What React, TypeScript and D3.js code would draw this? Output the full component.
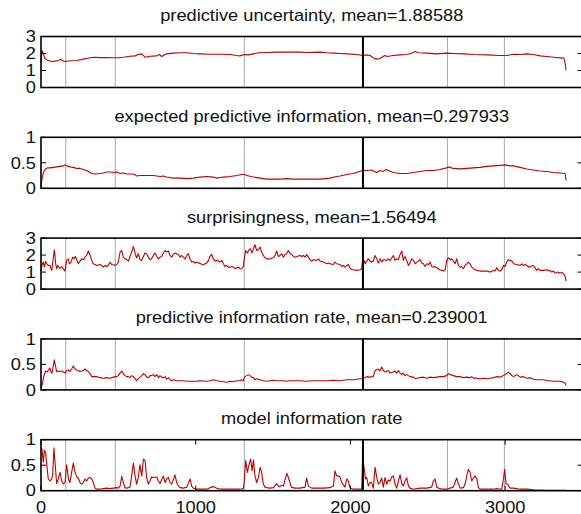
import React from "react";
import * as d3 from "d3";

// ---------- data (x = event index, y = value) ----------
const uncertaintyData: [number, number][] = [
  [0,1.49],[6,2.18],[15,1.98],[26,1.69],[47,1.59],[69,1.53],[90,1.55],[112,1.59],[129,1.65],[144,1.55],[159,1.53],[187,1.57],[231,1.59],[274,1.67],[317,1.75],[349,1.78],[381,1.76],[424,1.76],[468,1.75],[500,1.75],[532,1.78],[575,1.84],[608,1.86],[629,1.94],[651,1.98],[672,1.78],[705,1.84],[748,1.86],[765,1.94],[780,1.82],[802,1.94],[812,1.98],[855,2.02],[899,2.04],[942,2.04],[985,2.0],[1028,1.98],[1092,1.96],[1157,1.96],[1222,1.94],[1265,1.88],[1286,1.86],[1314,1.94],[1340,1.92],[1373,1.98],[1405,2.04],[1459,2.06],[1523,2.08],[1588,2.08],[1674,2.08],[1717,2.06],[1804,2.08],[1847,2.04],[1890,2.02],[1933,2.0],[1976,1.98],[2041,1.94],[2079,1.88],[2105,1.92],[2127,1.88],[2148,1.73],[2170,1.67],[2191,1.71],[2213,1.84],[2224,1.88],[2235,1.82],[2278,1.88],[2321,1.92],[2364,1.94],[2396,2.02],[2418,2.12],[2440,2.04],[2493,2.02],[2558,1.98],[2622,2.02],[2665,2.0],[2730,1.98],[2795,1.94],[2881,1.92],[2967,1.88],[3010,1.88],[3054,1.96],[3097,1.94],[3140,1.98],[3183,1.94],[3226,1.86],[3269,1.82],[3312,1.78],[3377,1.73],[3385,1.59],[3394,1.0]
];

const expInfoData: [number, number][] = [
  [0,0.02],[4,0.15],[11,0.25],[19,0.33],[30,0.38],[41,0.40],[58,0.40],[80,0.41],[101,0.42],[123,0.43],[144,0.44],[155,0.46],[166,0.44],[187,0.42],[209,0.41],[231,0.39],[252,0.39],[274,0.37],[295,0.35],[317,0.31],[328,0.29],[349,0.28],[381,0.29],[403,0.30],[424,0.32],[446,0.32],[478,0.31],[489,0.32],[511,0.29],[532,0.30],[554,0.28],[586,0.28],[608,0.27],[618,0.24],[640,0.25],[662,0.25],[694,0.25],[726,0.25],[748,0.24],[769,0.23],[791,0.24],[812,0.22],[855,0.20],[899,0.20],[942,0.19],[985,0.20],[1028,0.22],[1071,0.23],[1114,0.22],[1136,0.20],[1179,0.22],[1222,0.23],[1265,0.25],[1297,0.27],[1314,0.27],[1329,0.25],[1373,0.22],[1416,0.20],[1459,0.18],[1502,0.18],[1545,0.18],[1588,0.19],[1631,0.18],[1674,0.18],[1739,0.18],[1804,0.18],[1868,0.20],[1911,0.23],[1933,0.24],[1976,0.27],[2019,0.29],[2079,0.35],[2105,0.35],[2137,0.36],[2170,0.31],[2191,0.35],[2213,0.33],[2230,0.37],[2245,0.35],[2278,0.31],[2321,0.29],[2364,0.29],[2407,0.31],[2450,0.33],[2493,0.35],[2536,0.35],[2579,0.37],[2622,0.40],[2633,0.42],[2665,0.39],[2709,0.38],[2752,0.39],[2795,0.40],[2838,0.41],[2881,0.43],[2924,0.44],[2967,0.45],[2999,0.46],[3032,0.44],[3054,0.44],[3097,0.41],[3140,0.38],[3183,0.36],[3226,0.34],[3269,0.33],[3312,0.31],[3355,0.30],[3388,0.29],[3394,0.15]
];

const surpriseData: [number, number][] = [
  [0,1.10],[6,1.39],[15,1.59],[22,1.29],[30,1.63],[37,1.49],[47,1.39],[58,1.39],[69,1.10],[75,1.49],[86,2.31],[95,1.49],[101,1.20],[108,1.39],[116,1.29],[123,1.20],[134,1.33],[144,1.20],[155,1.06],[166,1.69],[177,1.78],[183,1.49],[194,1.59],[205,1.88],[213,1.78],[222,1.92],[231,1.73],[241,1.49],[252,1.65],[263,1.78],[274,1.73],[284,1.88],[295,1.98],[306,2.24],[317,1.98],[328,1.69],[338,1.49],[349,1.45],[360,1.39],[381,1.45],[392,1.39],[403,1.29],[414,1.39],[424,1.33],[435,1.39],[446,1.59],[457,1.45],[468,1.43],[478,1.39],[489,1.45],[500,1.59],[511,2.18],[522,2.27],[532,1.88],[543,1.78],[554,1.73],[565,1.65],[575,1.92],[586,2.18],[597,2.51],[608,2.12],[618,1.84],[629,2.08],[640,1.73],[651,1.69],[662,1.92],[672,2.12],[683,2.08],[694,1.88],[705,1.73],[715,1.78],[726,1.98],[737,2.12],[748,1.92],[759,1.78],[769,1.88],[780,1.92],[791,2.12],[802,2.27],[812,2.18],[823,2.24],[834,1.98],[845,1.88],[855,2.04],[866,2.12],[877,2.08],[888,2.04],[899,1.88],[909,1.98],[920,1.88],[931,1.78],[942,1.98],[952,2.08],[963,1.78],[974,1.59],[985,1.63],[995,1.53],[1006,1.59],[1017,1.53],[1028,1.53],[1039,1.45],[1049,1.43],[1060,1.49],[1071,1.53],[1082,1.69],[1092,1.92],[1103,2.04],[1114,1.78],[1125,1.65],[1136,1.69],[1146,1.65],[1157,1.59],[1168,1.69],[1179,1.49],[1189,1.33],[1200,1.39],[1211,1.29],[1222,1.29],[1233,1.33],[1243,1.29],[1254,1.20],[1265,1.25],[1276,1.29],[1286,1.20],[1297,1.18],[1308,1.33],[1314,1.78],[1323,2.27],[1334,2.12],[1345,2.31],[1355,2.37],[1364,2.12],[1373,2.37],[1383,2.61],[1394,2.27],[1405,2.31],[1416,2.47],[1426,2.18],[1437,1.98],[1448,1.84],[1459,1.78],[1480,1.78],[1502,1.84],[1513,1.98],[1523,2.24],[1534,1.92],[1545,1.98],[1556,2.08],[1567,1.88],[1577,2.04],[1588,2.08],[1599,2.27],[1610,2.08],[1621,2.04],[1631,1.92],[1642,1.88],[1653,1.92],[1674,1.98],[1685,1.92],[1696,1.98],[1707,1.88],[1717,2.04],[1728,1.88],[1739,1.73],[1750,1.65],[1760,1.73],[1782,1.69],[1793,1.78],[1804,1.65],[1825,1.59],[1847,1.49],[1857,1.53],[1868,1.49],[1890,1.45],[1900,1.59],[1911,1.49],[1933,1.45],[1944,1.33],[1954,1.39],[1965,1.29],[1976,1.39],[1987,1.45],[1997,1.24],[2008,1.14],[2019,1.14],[2041,1.10],[2062,1.14],[2073,1.20],[2079,1.73],[2088,1.69],[2095,1.49],[2105,1.65],[2116,1.78],[2127,1.65],[2137,1.59],[2148,1.65],[2159,1.98],[2170,1.78],[2180,1.53],[2191,1.78],[2202,1.59],[2213,1.73],[2235,1.69],[2245,1.78],[2256,1.69],[2278,1.98],[2288,1.69],[2299,1.78],[2310,1.73],[2321,2.04],[2332,2.24],[2342,1.69],[2353,1.92],[2364,1.69],[2375,1.39],[2385,1.53],[2396,1.78],[2407,1.69],[2418,1.49],[2429,1.59],[2450,1.73],[2461,1.53],[2472,1.49],[2482,1.33],[2493,1.49],[2504,1.45],[2515,1.59],[2525,1.33],[2536,1.29],[2547,1.33],[2558,1.25],[2568,1.20],[2579,1.14],[2601,1.06],[2612,1.14],[2622,1.69],[2633,1.84],[2644,1.73],[2655,1.78],[2665,1.65],[2676,1.49],[2687,1.78],[2698,1.39],[2709,1.29],[2719,1.33],[2730,1.20],[2741,1.39],[2752,1.49],[2762,1.59],[2773,1.49],[2784,1.29],[2795,1.20],[2817,1.10],[2838,1.06],[2860,1.06],[2881,1.06],[2903,1.00],[2924,1.10],[2935,1.06],[2946,1.25],[2956,1.10],[2967,1.06],[2978,1.14],[2989,1.39],[2999,1.33],[3010,1.59],[3021,1.73],[3032,1.69],[3043,1.65],[3054,1.49],[3075,1.45],[3097,1.39],[3108,1.49],[3118,1.39],[3129,1.45],[3140,1.39],[3151,1.29],[3161,1.33],[3183,1.39],[3194,1.25],[3204,1.10],[3215,1.20],[3226,1.10],[3247,1.10],[3269,1.14],[3280,1.06],[3291,1.10],[3302,1.00],[3312,1.06],[3323,0.94],[3334,1.00],[3355,0.94],[3366,1.00],[3377,0.90],[3388,0.75],[3394,0.47]
];

const pirData: [number, number][] = [
  [0,0.02],[9,0.12],[19,0.28],[30,0.37],[41,0.35],[52,0.41],[58,0.43],[65,0.35],[71,0.33],[80,0.48],[86,0.59],[93,0.48],[101,0.36],[112,0.37],[123,0.36],[134,0.37],[144,0.35],[155,0.33],[166,0.38],[177,0.39],[187,0.36],[198,0.41],[209,0.47],[220,0.41],[231,0.39],[241,0.38],[252,0.36],[263,0.37],[274,0.38],[284,0.41],[295,0.38],[306,0.36],[317,0.32],[328,0.26],[338,0.26],[360,0.26],[381,0.24],[403,0.23],[424,0.24],[446,0.23],[468,0.25],[478,0.26],[489,0.26],[500,0.28],[511,0.33],[522,0.37],[532,0.32],[543,0.28],[554,0.26],[565,0.26],[575,0.24],[586,0.28],[597,0.26],[608,0.22],[618,0.18],[629,0.22],[640,0.25],[651,0.28],[662,0.32],[672,0.30],[683,0.25],[694,0.24],[705,0.28],[715,0.28],[726,0.30],[737,0.26],[748,0.30],[759,0.24],[769,0.28],[780,0.25],[791,0.24],[802,0.26],[812,0.21],[823,0.24],[834,0.20],[845,0.18],[855,0.20],[877,0.18],[899,0.18],[920,0.18],[942,0.17],[963,0.17],[985,0.17],[1006,0.17],[1028,0.18],[1071,0.17],[1092,0.18],[1114,0.20],[1136,0.18],[1157,0.17],[1179,0.16],[1200,0.15],[1222,0.17],[1243,0.16],[1265,0.18],[1286,0.18],[1297,0.20],[1308,0.18],[1314,0.25],[1329,0.28],[1340,0.30],[1351,0.28],[1362,0.25],[1373,0.24],[1383,0.20],[1394,0.22],[1416,0.20],[1437,0.18],[1459,0.17],[1480,0.18],[1502,0.19],[1523,0.18],[1545,0.18],[1567,0.18],[1588,0.17],[1610,0.18],[1631,0.18],[1674,0.18],[1717,0.17],[1760,0.18],[1804,0.18],[1847,0.18],[1890,0.19],[1933,0.18],[1976,0.20],[1997,0.20],[2019,0.20],[2062,0.22],[2079,0.22],[2095,0.24],[2105,0.26],[2116,0.25],[2148,0.26],[2159,0.38],[2180,0.41],[2191,0.37],[2202,0.45],[2213,0.38],[2224,0.35],[2245,0.38],[2256,0.33],[2278,0.35],[2288,0.37],[2299,0.33],[2310,0.38],[2321,0.33],[2332,0.30],[2342,0.33],[2353,0.28],[2364,0.30],[2385,0.26],[2407,0.25],[2418,0.22],[2429,0.23],[2450,0.24],[2472,0.25],[2493,0.23],[2515,0.25],[2536,0.24],[2558,0.25],[2579,0.26],[2601,0.26],[2622,0.28],[2633,0.32],[2644,0.30],[2665,0.28],[2687,0.26],[2709,0.26],[2730,0.24],[2752,0.25],[2773,0.24],[2784,0.26],[2795,0.23],[2817,0.23],[2838,0.22],[2860,0.23],[2881,0.22],[2903,0.23],[2924,0.24],[2946,0.26],[2967,0.25],[2989,0.28],[3010,0.32],[3021,0.35],[3032,0.32],[3043,0.28],[3054,0.26],[3075,0.30],[3097,0.25],[3118,0.26],[3140,0.23],[3161,0.24],[3183,0.21],[3204,0.20],[3226,0.20],[3247,0.20],[3269,0.18],[3291,0.18],[3312,0.17],[3355,0.17],[3377,0.15],[3388,0.13],[3394,0.09]
];

const mirData: [number, number][] = [
  [0,0.85],[6,0.82],[15,0.56],[22,0.79],[30,0.75],[37,0.52],[47,0.23],[58,0.19],[69,0.23],[75,0.29],[84,0.84],[93,0.46],[101,0.14],[112,0.23],[123,0.36],[134,0.19],[144,0.13],[155,0.16],[166,0.51],[177,0.23],[187,0.16],[198,0.36],[209,0.54],[220,0.36],[231,0.27],[241,0.25],[252,0.16],[263,0.13],[274,0.16],[284,0.23],[295,0.19],[306,0.25],[317,0.26],[328,0.23],[338,0.16],[349,0.05],[360,0.03],[381,0.03],[403,0.04],[424,0.05],[446,0.04],[468,0.05],[489,0.06],[500,0.05],[511,0.09],[522,0.28],[532,0.16],[543,0.06],[554,0.05],[575,0.07],[586,0.29],[597,0.54],[608,0.29],[618,0.13],[629,0.26],[640,0.51],[651,0.29],[662,0.62],[672,0.60],[683,0.26],[694,0.13],[705,0.19],[715,0.27],[726,0.26],[748,0.27],[759,0.19],[769,0.14],[791,0.29],[802,0.16],[812,0.23],[823,0.26],[834,0.16],[845,0.13],[866,0.31],[877,0.16],[888,0.09],[899,0.06],[920,0.05],[942,0.07],[963,0.23],[974,0.09],[985,0.05],[1006,0.03],[1028,0.03],[1071,0.03],[1092,0.06],[1114,0.08],[1136,0.05],[1157,0.03],[1200,0.03],[1243,0.03],[1286,0.03],[1308,0.04],[1314,0.19],[1323,0.59],[1334,0.36],[1345,0.52],[1355,0.62],[1364,0.39],[1373,0.60],[1383,0.29],[1394,0.16],[1405,0.26],[1416,0.46],[1426,0.36],[1437,0.13],[1448,0.07],[1459,0.06],[1480,0.05],[1502,0.06],[1523,0.14],[1534,0.09],[1545,0.08],[1556,0.11],[1567,0.09],[1577,0.21],[1590,0.34],[1603,0.22],[1618,0.07],[1642,0.05],[1674,0.05],[1707,0.07],[1717,0.25],[1728,0.09],[1750,0.05],[1782,0.05],[1825,0.05],[1868,0.06],[1890,0.09],[1900,0.39],[1911,0.29],[1922,0.29],[1933,0.27],[1944,0.16],[1965,0.07],[1976,0.23],[1987,0.19],[1997,0.06],[2019,0.03],[2041,0.03],[2062,0.03],[2073,0.03],[2079,0.64],[2088,0.46],[2097,0.23],[2105,0.26],[2116,0.09],[2127,0.16],[2137,0.16],[2148,0.05],[2159,0.46],[2170,0.26],[2180,0.13],[2191,0.16],[2202,0.25],[2213,0.07],[2224,0.26],[2235,0.13],[2245,0.21],[2256,0.19],[2267,0.27],[2278,0.29],[2288,0.13],[2299,0.05],[2310,0.19],[2321,0.31],[2332,0.14],[2342,0.09],[2353,0.19],[2364,0.25],[2375,0.09],[2385,0.05],[2407,0.03],[2450,0.05],[2493,0.05],[2525,0.07],[2536,0.19],[2547,0.23],[2558,0.07],[2579,0.04],[2601,0.03],[2622,0.03],[2644,0.05],[2665,0.07],[2676,0.16],[2687,0.25],[2698,0.13],[2709,0.05],[2730,0.06],[2741,0.13],[2752,0.29],[2762,0.42],[2773,0.36],[2784,0.19],[2795,0.25],[2806,0.29],[2817,0.23],[2827,0.06],[2838,0.03],[2881,0.03],[2924,0.03],[2946,0.04],[2967,0.03],[2978,0.03],[2989,0.23],[2997,0.42],[3006,0.13],[3015,0.13],[3023,0.09],[3032,0.05],[3054,0.05],[3097,0.03],[3140,0.03],[3183,0.02],[3269,0.01],[3355,0.01],[3394,0.01]
];

const titles = [
  "predictive uncertainty, mean=1.88588",
  "expected predictive information, mean=0.297933",
  "surprisingness, mean=1.56494",
  "predictive information rate, mean=0.239001",
  "model information rate",
];
const yMaxes = [3, 1, 3, 1, 1];
const yTickSets = [[0, 1, 2, 3], [0, 0.5, 1], [0, 1, 2, 3], [0, 0.5, 1], [0, 0.5, 1]];
const xTicks = [0, 1000, 2000, 3000];
const xDomain: [number, number] = [0, 3500];
const greyMarkers = [160, 480, 1314, 2627, 2995];
const blackMarkers = [2081];
const allSeries = [uncertaintyData, expInfoData, surpriseData, pirData, mirData];

// ---------- layout ----------
const W = 581, H = 514;
const LEFT = 41, RIGHT = 582.5;
const TOP0 = 36.5, STEP = 100.8, PH = 51;
const FONT = "'Liberation Sans', Arial, Helvetica, sans-serif";
const FS = 16;
const SX = 1.14;
const RED = "#c00000";

export default function App() {
  const x = d3.scaleLinear().domain(xDomain).range([LEFT, RIGHT]);
  return (
    <svg width={W} height={H} style={{ position: "absolute", left: 0, top: 0, background: "#fff" }}
      fontFamily={FONT}>
      <rect x={0} y={0} width={W} height={H} fill="#fff" />
      {allSeries.map((data, i) => {
        const top = TOP0 + STEP * i;
        const bottom = top + PH;
        const y = d3.scaleLinear().domain([0, yMaxes[i]]).range([bottom, top]);
        const line = d3.line<[number, number]>().x(d => x(d[0])).y(d => y(d[1]));
        const isLast = i === allSeries.length - 1;
        return (
          <g key={i}>
            <text transform={`translate(${(LEFT + RIGHT) / 2},${top - 15.5}) scale(${SX},1)`}
              textAnchor="middle" fontSize={FS} fill="#111">{titles[i]}</text>
            {greyMarkers.map(m => (
              <line key={m} x1={x(m)} x2={x(m)} y1={top} y2={bottom} stroke="#a8a8a8" strokeWidth={1} />
            ))}
            <path d={line(data) || ""} fill="none" stroke={RED} strokeWidth={1.1} strokeLinejoin="round" />
            {blackMarkers.map(m => (
              <line key={m} x1={x(m)} x2={x(m)} y1={top} y2={bottom} stroke="#000" strokeWidth={2} />
            ))}
            <rect x={LEFT} y={top} width={RIGHT - LEFT} height={PH} fill="none" stroke="#000" strokeWidth={1.6} />
            {yTickSets[i].map(v => (
              <g key={v}>
                <line x1={LEFT} x2={LEFT + 5} y1={y(v)} y2={y(v)} stroke="#000" strokeWidth={1} />
                <line x1={RIGHT - 5} x2={RIGHT} y1={y(v)} y2={y(v)} stroke="#000" strokeWidth={1} />
                <text transform={`translate(${LEFT - 5},${y(v)}) scale(${SX},1)`} dy="0.36em"
                  textAnchor="end" fontSize={FS} fill="#111">{String(v)}</text>
              </g>
            ))}
            {isLast && xTicks.map(t => (
              <g key={t}>
                <line x1={x(t)} x2={x(t)} y1={bottom} y2={bottom - 5} stroke="#000" strokeWidth={1} />
                <line x1={x(t)} x2={x(t)} y1={top} y2={top + 5} stroke="#000" strokeWidth={1} />
                <text transform={`translate(${x(t)},${bottom + 22.5}) scale(${SX},1)`}
                  textAnchor="middle" fontSize={FS} fill="#111">{String(t)}</text>
              </g>
            ))}
          </g>
        );
      })}
    </svg>
  );
}
